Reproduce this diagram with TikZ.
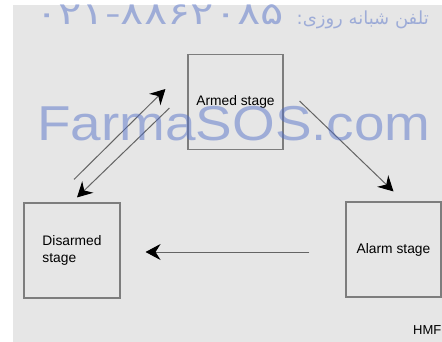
\documentclass[tikz,border=0pt]{standalone}
\usepackage{fontspec}
\setmainfont{Liberation Sans}
\newfontfamily\persianfont[Script=Arabic]{DejaVu Sans}
\usetikzlibrary{arrows.meta,calc}
\TeXXeTstate=1

\definecolor{panel}{RGB}{230,230,230}
\definecolor{boxline}{RGB}{125,125,125}
\definecolor{flowline}{RGB}{100,100,100}
\definecolor{stampblue}{RGB}{80,110,200}

\tikzset{
  stage/.style={rectangle, draw=boxline, line width=1.1pt, minimum width=95pt, minimum height=95pt, inner sep=0pt, font=\fontsize{13.8}{16.5}\selectfont},
  flow/.style={draw=flowline, line width=1pt, -{Stealth[length=15pt,width=16pt,inset=5pt,black]}},
  wmark/.style={text=stampblue, text opacity=0.48, inner sep=0pt}
}

\begin{document}
\begin{tikzpicture}[x=1pt,y=-1pt]
  % Frame
  \useasboundingbox (0,0) rectangle (442,342);
  \fill[panel] (13,5) rectangle (442,342);

  % Nodes
  \node (armed) at (235.5,102) [stage] {Armed stage};
  \node (disarmed) at (72,250.5) [stage, minimum width=96pt, align=left] {Disarmed\\stage};
  \node (alarm) at (393.5,249.5) [stage] {Alarm stage};
  \node (tag) at (413,334) [anchor=base west, inner sep=0pt, font=\fontsize{13}{13}\selectfont] {HMF};

  % Edges
  \draw[flow] ($(disarmed.north)+(2,-23)$) -- ($(armed.west)+(-22,-13)$);
  \draw[flow] ($(armed.west)+(-18,6)$) -- ($(disarmed.north)+(5,-5)$);
  \draw[flow] ($(armed.east)+(16,-1)$) -- ($(alarm.north)+(0,-10)$);
  \draw[flow] ($(alarm.west)+(-36,2.5)$) -- ($(disarmed.east)+(25,1.5)$);

  % Watermark
  \node (site) at (37,141) [wmark, anchor=base west, font=\fontsize{49}{49}\selectfont] {\scalebox{1.12}[1]{FarmaSOS.com}};
  \node (phone) at (35,25) [wmark, anchor=base west, font=\persianfont\fontsize{31}{31}\selectfont] {\scalebox{1.4}[1]{۰۲۱-۸۸۶۲۰۸۵}};
  \node (phonelabel) at (429,25) [wmark, anchor=base east, font=\persianfont\fontsize{18}{18}\selectfont] {\beginR تلفن شبانه روزی:\endR};
\end{tikzpicture}
\end{document}
